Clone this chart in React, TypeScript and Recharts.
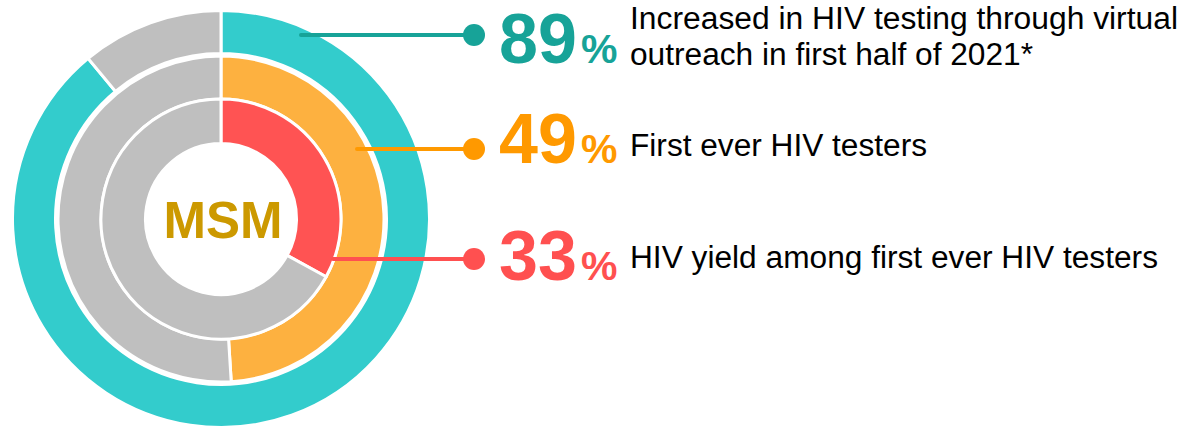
import React from 'react';
import { PieChart, Pie, Cell } from 'recharts';

// ring values, outer to inner
const ringNames = ['Virtual outreach', 'First ever testers', 'HIV yield'];
const ringValues = [89, 49, 33];
const ringColors = ['#33CCCC', '#FDB140', '#FF5353'];
const textColors = ['#17A398', '#FF9900', '#FF5050'];
const restColor = '#BFBFBF';
const descriptions = [
  ['Increased in HIV testing through virtual', 'outreach in first half of 2021*'],
  ['First ever HIV testers'],
  ['HIV yield among first ever HIV testers'],
];
const centerLabel = 'MSM';

const radii = [
  { inner: 165.5, outer: 208.5 },
  { inner: 120, outer: 163 },
  { inner: 75.5, outer: 120 },
];

// callout geometry
const callouts = [
  { x1: 301, y: 35, num: 63, text: [29, 65], widths: [548, 403] },
  { x1: 357, y: 149, num: 163, text: [156], widths: [297] },
  { x1: 333, y: 259, num: 280, text: [268], widths: [528] },
];

const FONT = "'Liberation Sans', Arial, sans-serif";

const Callouts = () => (
  <svg
    width={1181}
    height={428}
    style={{ position: 'absolute', left: 0, top: 0, pointerEvents: 'none' }}
  >
    {callouts.map((c, i) => (
      <g key={ringNames[i]}>
        <line x1={c.x1} y1={c.y} x2={474} y2={c.y} stroke={textColors[i]} strokeWidth={4} strokeLinecap="round" />
        <circle cx={474} cy={c.y} r={11} fill={textColors[i]} />
        <text x={499} y={c.num} fontFamily={FONT} fontWeight="bold" fontSize={70} fill={textColors[i]}>
          {ringValues[i]}
        </text>
        <text x={581} y={c.num} fontFamily={FONT} fontWeight="bold" fontSize={41} fill={textColors[i]}>
          %
        </text>
        {descriptions[i].map((line, j) => (
          <text
            key={j}
            x={630}
            y={c.text[j]}
            fontFamily={FONT}
            fontSize={31}
            fill="#000"
            textLength={c.widths[j]}
            lengthAdjust="spacingAndGlyphs"
          >
            {line}
          </text>
        ))}
      </g>
    ))}
    <text x={223} y={238} textAnchor="middle" fontFamily={FONT} fontWeight="bold" fontSize={51} fill="#CC9900">
      {centerLabel}
    </text>
  </svg>
);

const App: React.FC = () => {
  return (
    <div style={{ position: 'absolute', left: 0, top: 0, width: 1181, height: 428, background: '#fff' }}>
      <PieChart width={1181} height={428} margin={{ top: 0, right: 0, bottom: 0, left: 0 }}>
        {ringValues.map((v, i) => (
          <Pie
            key={ringNames[i]}
            data={[
              { name: ringNames[i], value: v },
              { name: 'Other', value: 100 - v },
            ]}
            dataKey="value"
            cx={221}
            cy={219}
            innerRadius={radii[i].inner}
            outerRadius={radii[i].outer}
            startAngle={90}
            endAngle={-270}
            stroke="#fff"
            strokeWidth={3}
            isAnimationActive={false}
          >
            <Cell fill={ringColors[i]} />
            <Cell fill={restColor} />
          </Pie>
        ))}
      </PieChart>
      <Callouts />
    </div>
  );
};

export default App;
